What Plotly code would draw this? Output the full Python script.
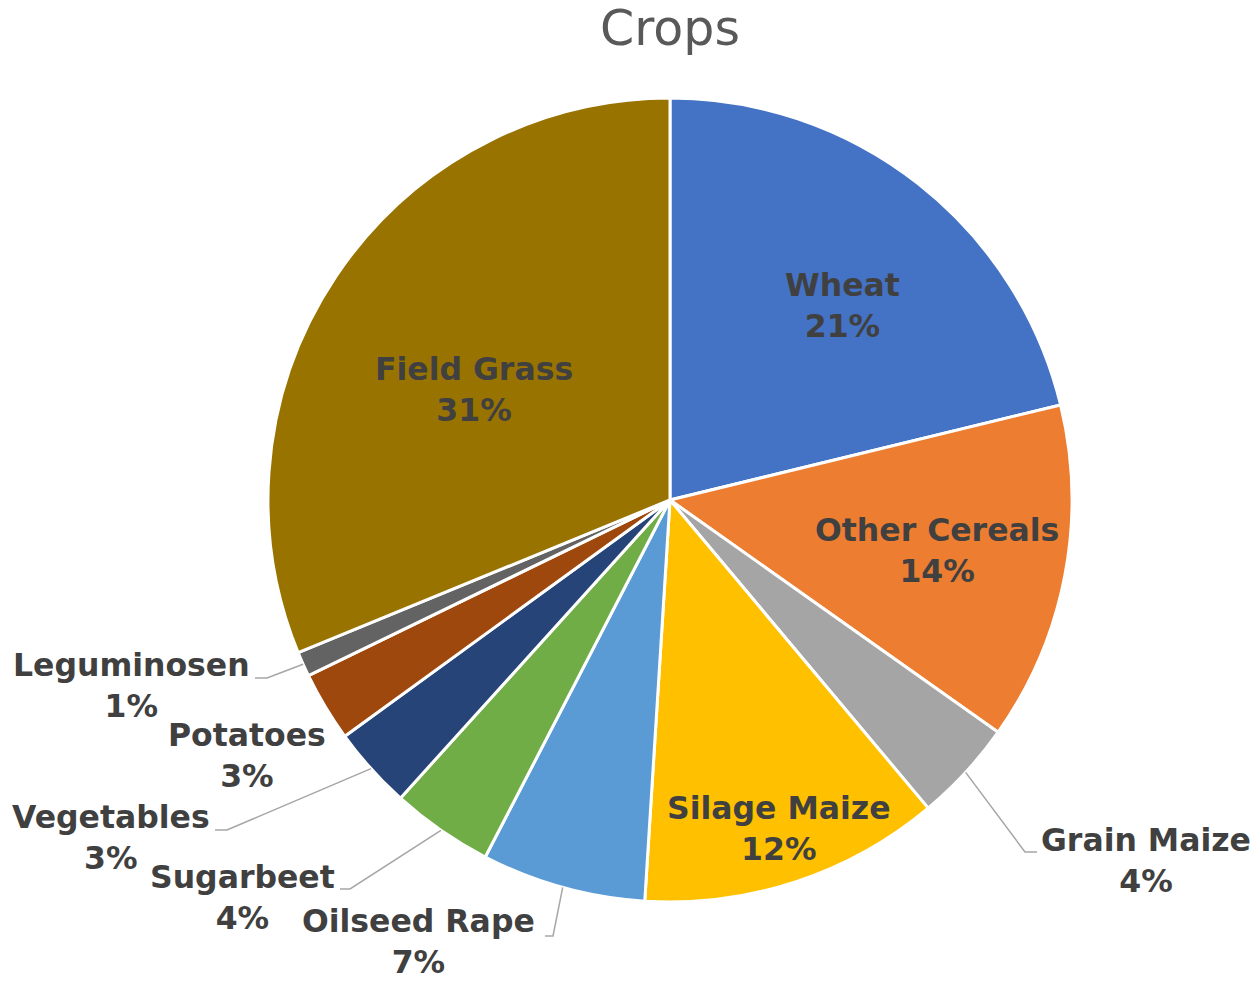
import math
import plotly.graph_objects as go

# ---- data ----
crops = ["Wheat", "Other Cereals", "Grain Maize", "Silage Maize", "Oilseed Rape",
         "Sugarbeet", "Vegetables", "Potatoes", "Leguminosen", "Field Grass"]
shares = [21.2, 13.6, 4.1, 12.1, 6.6, 4.1, 3.3, 2.8, 1.0, 31.2]
colors = ["#4472C4", "#ED7D31", "#A5A5A5", "#FFC000", "#5B9BD5",
          "#70AD47", "#264478", "#9E480E", "#636363", "#997300"]
title_text = "Crops"

# ---- layout constants (pixels) ----
W, H = 1258, 983
CX, CY, R = 670, 500, 402

# label block centres (px) and leader-line elbow/end points (px)
label_pos = {
    "Wheat": (842, 305),
    "Other Cereals": (937, 550),
    "Grain Maize": (1146, 860),
    "Silage Maize": (779, 828),
    "Oilseed Rape": (418, 941),
    "Sugarbeet": (242, 897),
    "Vegetables": (111, 837),
    "Potatoes": (247, 755),
    "Leguminosen": (131, 685),
    "Field Grass": (474, 389),
}
leader = {
    "Grain Maize": [(1025, 852), (1037, 852)],
    "Oilseed Rape": [(553, 936), (545, 936)],
    "Sugarbeet": [(350, 889), (340, 889)],
    "Vegetables": [(227, 830), (215, 830)],
    "Leguminosen": [(267, 678), (255, 678)],
}


def px(x):
    return x / W


def py(y):
    return 1 - y / H


fig = go.Figure(go.Pie(
    labels=crops,
    values=shares,
    sort=False,
    direction="clockwise",
    rotation=0,
    marker=dict(colors=colors, line=dict(color="white", width=3)),
    textinfo="none",
    hoverinfo="label+percent",
    domain=dict(x=[px(CX - R), px(CX + R)], y=[py(CY + R), py(CY - R)]),
    showlegend=False,
))

total = sum(shares)
annotations = []
shapes = []
cum = 0.0
for name, v in zip(crops, shares):
    mid = (cum + v / 2) / total * 2 * math.pi
    cum += v
    pct = round(v / total * 100)
    lx, ly = label_pos[name]
    annotations.append(dict(
        x=px(lx), y=py(ly), xref="paper", yref="paper",
        xanchor="center", yanchor="middle", align="center", showarrow=False,
        text=f"<b>{name}</b><br><b>{pct}%</b>",
        font=dict(family="DejaVu Sans", size=31.5, color="#404040"),
    ))
    if name in leader:
        sx = CX + R * math.sin(mid)
        sy = CY - R * math.cos(mid)
        pts = [(sx, sy)] + leader[name]
        path = "M " + " L ".join(f"{px(a)},{py(b)}" for a, b in pts)
        shapes.append(dict(type="path", xref="paper", yref="paper", path=path,
                           line=dict(color="#A6A6A6", width=1.5)))

fig.update_layout(
    width=W, height=H,
    margin=dict(l=0, r=0, t=0, b=0),
    paper_bgcolor="white",
    plot_bgcolor="white",
    title=dict(text=title_text, x=CX / W, xanchor="center", y=1 - 28 / H, yanchor="middle",
               font=dict(family="DejaVu Sans", size=49, color="#595959")),
    annotations=annotations,
    shapes=shapes,
)

fig.write_html("out.html", config={"displayModeBar": False},
               post_script="document.body.style.margin='0';document.body.style.overflow='hidden';")
